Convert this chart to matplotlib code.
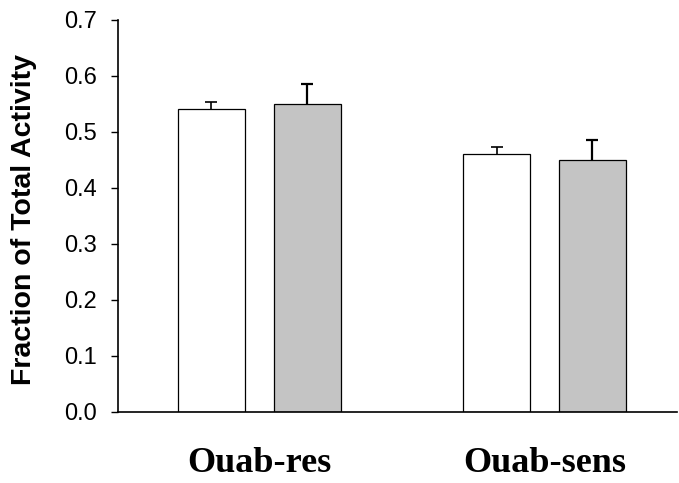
import numpy as np
import matplotlib.pyplot as plt

# data
groups = ["Ouab-res", "Ouab-sens"]
control = [0.54, 0.46]
control_err = [0.013, 0.013]
treated = [0.55, 0.45]
treated_err = [0.035, 0.035]
yticks = [0.0, 0.1, 0.2, 0.3, 0.4, 0.5, 0.6, 0.7]

fig = plt.figure(figsize=(6.79, 4.83), dpi=100)
ax = fig.add_axes([0.174, 0.147, 0.823, 0.812])

x = np.arange(len(groups))
w = 0.235
off = 0.168

ax.bar(x - off, control, w, color="white", edgecolor="black", linewidth=0.9, zorder=2)
ax.bar(x + off, treated, w, color="#c4c4c4", edgecolor="black", linewidth=0.9, zorder=2)

# upper-only error bars
for xs, ys, es, lw in [(x - off, control, control_err, 1.2), (x + off, treated, treated_err, 1.6)]:
    eb = ax.errorbar(xs, ys, yerr=[np.zeros(len(es)), es], fmt="none", ecolor="black",
                     elinewidth=lw, capsize=4.5, capthick=lw, zorder=3)
    eb[1][0].set_visible(False)

ax.set_xlim(-0.494, 1.464)
ax.set_ylim(0, 0.7)
ax.set_yticks(yticks)
ax.set_yticklabels([f"{v:.1f}" for v in yticks], fontfamily="Liberation Sans", fontsize=17)
ax.set_xticks(x)
ax.set_xticklabels(groups, fontfamily="Liberation Serif", fontweight="bold", fontsize=26)
ax.tick_params(axis="x", length=0, pad=25)
ax.tick_params(axis="y", direction="out", length=5, width=1, pad=10)

ax.spines["top"].set_visible(False)
ax.spines["right"].set_visible(False)
ax.spines["left"].set_linewidth(1.2)
ax.spines["bottom"].set_linewidth(1.2)

ax.set_ylabel("Fraction of Total Activity", fontfamily="Liberation Sans",
              fontweight="bold", fontsize=20.5)
ax.yaxis.set_label_coords(-0.146, 0.49)

fig.savefig("out.png", dpi=100)
